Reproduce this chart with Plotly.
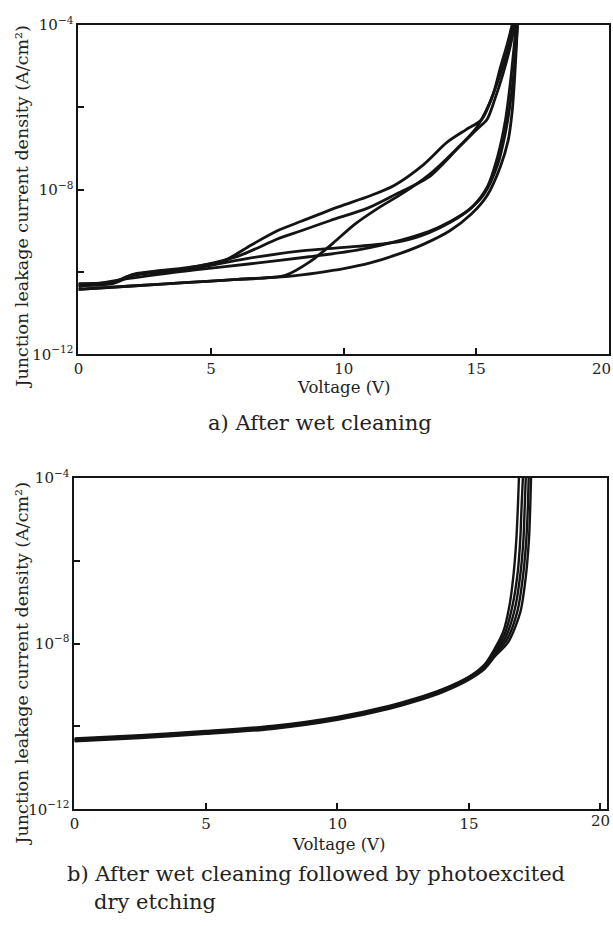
import plotly.graph_objects as go

W, H = 613, 926
FONT = "DejaVu Serif"
INK = "#141414"

# ---- (a) after wet cleaning: log10 of current density vs voltage ----
a_lowest_v = [0, 2, 4, 6, 8, 9, 10, 11, 12, 13, 14, 14.8, 15.4, 15.9, 16.2, 16.35, 16.45, 16.55]
a_lowest_j = [-10.42, -10.34, -10.26, -10.18, -10.1, -10.02, -9.92, -9.78, -9.58, -9.33,
              -9.0, -8.6, -8.15, -7.45, -6.8, -6.1, -5.2, -4.0]

a_jump_v = [0, 2, 4, 6, 7.8, 8.75, 9.6, 10.4, 11.3, 12.2, 13.2, 14.2, 15.0, 15.5, 15.9, 16.2, 16.4]
a_jump_j = [-10.42, -10.34, -10.26, -10.18, -10.08, -9.74, -9.3, -8.85, -8.45, -8.1,
            -7.65, -7.05, -6.5, -5.9, -5.2, -4.6, -4.0]

a_mid2_v = [0, 2, 4.4, 6.5, 8.7, 10.5, 12.2, 13.2, 14.0, 14.7, 15.3, 15.8, 16.1, 16.3, 16.45, 16.55]
a_mid2_j = [-10.36, -10.15, -9.95, -9.8, -9.63, -9.47, -9.22, -9.02, -8.78, -8.5,
            -8.1, -7.4, -6.6, -5.8, -4.9, -4.0]

a_mid1_v = [0, 1.3, 2.1, 4, 6.3, 8.4, 10.5, 12.2, 13.2, 14.0, 14.8, 15.4, 15.8, 16.1, 16.3, 16.5]
a_mid1_j = [-10.33, -10.28, -10.08, -9.95, -9.68, -9.49, -9.38, -9.25, -9.05, -8.8,
            -8.45, -7.95, -7.2, -6.3, -5.3, -4.0]

a_up2_v = [0, 1.3, 2.1, 4, 6.0, 7.5, 8.4, 9.5, 10.9, 12.0, 13.2, 14.3, 15.0, 15.4, 15.7, 16.0, 16.25, 16.45]
a_up2_j = [-10.3, -10.25, -10.06, -9.92, -9.62, -9.2, -9.0, -8.75, -8.45, -8.1,
           -7.7, -7.0, -6.55, -6.3, -5.8, -5.2, -4.6, -4.0]

a_up1_v = [0, 1.3, 2.1, 4, 5.5, 6.5, 7.5, 8.4, 9.8, 11.0, 11.9, 13.0, 13.9, 14.6, 15.2, 15.65, 15.9, 16.15, 16.35]
a_up1_j = [-10.28, -10.24, -10.05, -9.9, -9.72, -9.35, -9.0, -8.77, -8.42, -8.15,
           -7.9, -7.4, -6.85, -6.55, -6.3, -5.65, -5.05, -4.5, -4.0]

# ---- (b) after wet cleaning + photoexcited dry etching ----
b1_v = [0, 2.5, 5, 7.5, 10, 12, 13, 14, 15, 15.6, 16.0, 16.3, 16.55, 16.7, 16.8, 16.86, 16.9]
b1_j = [-10.29, -10.21, -10.11, -9.99, -9.77, -9.5, -9.32, -9.1, -8.8, -8.5, -8.1,
        -7.72, -7.05, -6.3, -5.5, -4.7, -4.0]

b2_v = [0, 2.5, 5, 7.5, 10, 12, 13, 14, 15, 15.6, 16.0, 16.35, 16.65, 16.85, 16.95, 17.0, 17.05]
b2_j = [-10.31, -10.23, -10.13, -10.01, -9.79, -9.52, -9.34, -9.12, -8.81, -8.53, -8.15,
        -7.78, -7.1, -6.3, -5.5, -4.7, -4.0]

b3_v = [0, 2.5, 5, 7.5, 10, 12, 13, 14, 15, 15.6, 16.0, 16.4, 16.75, 16.95, 17.07, 17.12, 17.16]
b3_j = [-10.32, -10.24, -10.14, -10.02, -9.8, -9.53, -9.35, -9.13, -8.83, -8.55, -8.2,
        -7.84, -7.15, -6.35, -5.5, -4.7, -4.0]

b4_v = [0, 2.5, 5, 7.5, 10, 12, 13, 14, 15, 15.6, 16.0, 16.45, 16.85, 17.05, 17.18, 17.24, 17.27]
b4_j = [-10.34, -10.26, -10.16, -10.04, -9.82, -9.55, -9.37, -9.15, -8.85, -8.58, -8.25,
        -7.9, -7.2, -6.4, -5.5, -4.7, -4.0]

b5_v = [0, 2.5, 5, 7.5, 10, 12, 13, 14, 15, 15.6, 16.0, 16.5, 16.95, 17.15, 17.28, 17.33, 17.36]
b5_j = [-10.36, -10.28, -10.18, -10.06, -9.84, -9.57, -9.39, -9.17, -8.87, -8.61, -8.3,
        -7.96, -7.25, -6.45, -5.5, -4.7, -4.0]

x_ticks = [0, 5, 10, 15, 20]
y_ticks = [-12, -10, -8, -6, -4]
y_ticktext = ["10<sup>\u221212</sup>", "", "10<sup>\u22128</sup>", "", "10<sup>\u22124</sup>"]

fig = go.Figure()

top_curves = [(a_lowest_v, a_lowest_j), (a_jump_v, a_jump_j), (a_mid2_v, a_mid2_j),
              (a_mid1_v, a_mid1_j), (a_up2_v, a_up2_j), (a_up1_v, a_up1_j)]
for v, j in top_curves:
    fig.add_trace(go.Scatter(x=v, y=j, mode="lines", xaxis="x", yaxis="y",
                             line=dict(color=INK, width=2.8, shape="spline", smoothing=0.8),
                             showlegend=False, hoverinfo="skip"))

bottom_curves = [(b1_v, b1_j), (b2_v, b2_j), (b3_v, b3_j), (b4_v, b4_j), (b5_v, b5_j)]
for v, j in bottom_curves:
    fig.add_trace(go.Scatter(x=v, y=j, mode="lines", xaxis="x2", yaxis="y2",
                             line=dict(color=INK, width=2.4, shape="spline", smoothing=0.8),
                             showlegend=False, hoverinfo="skip"))


def px_x(p):
    return p / W


def px_y(p):
    return 1 - p / H


tick_font = dict(family=FONT, size=15, color="#222")
# the last x label sits at the page edge, so it is drawn as an annotation below
x_ticktext = [str(t) if t != 20 else "" for t in x_ticks]
xcommon = dict(tickmode="array", tickvals=x_ticks, ticktext=x_ticktext,
               ticks="inside", ticklen=6, tickwidth=1.5, tickcolor=INK,
               showline=True, linecolor=INK, linewidth=2, mirror=True,
               showgrid=False, zeroline=False, tickfont=tick_font, fixedrange=True)
ycommon = dict(tickmode="array", tickvals=y_ticks, ticktext=y_ticktext, range=[-12, -4],
               ticks="inside", ticklen=6, tickwidth=1.5, tickcolor=INK,
               showline=True, linecolor=INK, linewidth=2, mirror=True,
               showgrid=False, zeroline=False, tickfont=tick_font, fixedrange=True)

fig.update_layout(
    width=W, height=H,
    margin=dict(l=0, r=0, t=0, b=0),
    paper_bgcolor="white", plot_bgcolor="white",
    xaxis=dict(xcommon, domain=[px_x(74), px_x(609)], range=[0, 20], anchor="y"),
    yaxis=dict(ycommon, domain=[px_y(351), px_y(14)], anchor="x"),
    xaxis2=dict(xcommon, domain=[px_x(70), px_x(607)], range=[0, 20.25], anchor="y2"),
    yaxis2=dict(ycommon, domain=[px_y(816), px_y(477)], anchor="x2"),
)

title_font = dict(family=FONT, size=17.5, color="#222")
label_font = dict(family=FONT, size=16.5, color="#222")
cap_font = dict(family=FONT, size=21, color="#222")
ytitle = "Junction leakage current density (A/cm\u00b2)"
annotations = [
    dict(text=ytitle, x=px_x(17), y=px_y(200), textangle=-90, font=title_font),
    dict(text=ytitle, x=px_x(17), y=px_y(667), textangle=-90, font=title_font),
    dict(text="Voltage (V)", x=px_x(341), y=px_y(385), font=label_font),
    dict(text="Voltage (V)", x=px_x(336), y=px_y(852), font=label_font),
    dict(text="a) After wet cleaning", x=px_x(318), y=px_y(421), font=cap_font),
    dict(text="b) After wet cleaning followed by photoexcited", x=px_x(60), y=px_y(882),
         xanchor="left", font=cap_font),
    dict(text="dry etching", x=px_x(88), y=px_y(911), xanchor="left", font=cap_font),
    dict(text="20", x=1.0, y=px_y(366), xanchor="right", font=tick_font),
    dict(text="20", x=px_x(612), y=px_y(828), xanchor="right", font=tick_font),
]
for a in annotations:
    a.setdefault("xanchor", "center")
    a.setdefault("xref", "paper")
    a.update(yref="paper", yanchor="middle", showarrow=False)
fig.update_layout(annotations=annotations)

fig.write_html("out.html")
